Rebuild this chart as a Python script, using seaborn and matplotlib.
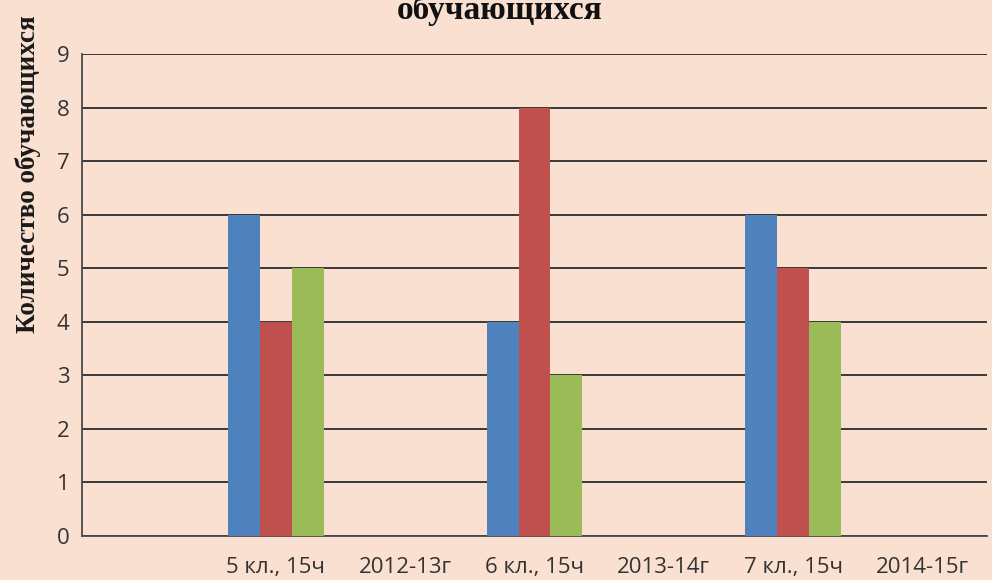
"""
Grouped bar chart: number of students per class / school year
"""

import numpy as np
import pandas as pd
import matplotlib
matplotlib.use("Agg")
import matplotlib.pyplot as plt
import seaborn as sns

# categories on the x axis (first slot is empty in the original)
categories = ["", "5 кл., 15ч", "2012-13г", "6 кл., 15ч", "2013-14г", "7 кл., 15ч", "2014-15г"]
series_names = ["Ряд 1", "Ряд 2", "Ряд 3"]
# only the class categories carry values
value_cats = ["5 кл., 15ч", "6 кл., 15ч", "7 кл., 15ч"]
blue_vals = [6, 4, 6]
red_vals = [4, 8, 5]
green_vals = [5, 3, 4]
y_ticks = list(range(0, 10))

bg = "#f9e0d1"
colors = ["#4f81bd", "#c0504d", "#9bbb59"]

rows = []
for name, vals in zip(series_names, [blue_vals, red_vals, green_vals]):
    for cat, v in zip(value_cats, vals):
        rows.append({"category": cat, "series": name, "value": v})
df = pd.DataFrame(rows)

sns.set_theme(style="white")
plt.rcParams["font.family"] = ["Open Sans", "DejaVu Sans"]

fig = plt.figure(figsize=(9.92, 5.8), dpi=100, facecolor=bg)
ax = fig.add_axes([82 / 992, 44 / 580, 905 / 992, 482 / 580])
ax.set_facecolor(bg)

sns.barplot(data=df, x="category", y="value", hue="series", order=categories,
            hue_order=series_names, palette=colors, width=0.74, gap=0,
            saturation=1, legend=False, ax=ax, zorder=3, linewidth=0)

ax.set_ylim(0, 9)
ax.set_xlim(-0.5, len(categories) - 0.5)
ax.set_yticks(y_ticks)
ax.yaxis.grid(True, color="#2b2b2b", linewidth=1.3, zorder=1)
ax.set_axisbelow(True)

for side in ["top", "right"]:
    ax.spines[side].set_visible(False)
for side in ["left", "bottom"]:
    ax.spines[side].set_color("#4a4a4a")
    ax.spines[side].set_linewidth(1.3)

ax.tick_params(axis="y", length=0, pad=9, labelsize=16, labelcolor="#333333")
ax.tick_params(axis="x", length=0, pad=15, labelsize=16, labelcolor="#333333")
ax.set_xticks(range(len(categories)))
ax.set_xticklabels(categories)

ax.set_xlabel("")
ax.set_ylabel("")

fig.text(28 / 992, 1 - 174 / 580, "Количество обучающихся", rotation=90,
         ha="center", va="center", fontsize=19.5, fontweight="bold",
         family=["Liberation Serif", "DejaVu Serif"], color="#1a1a1a")
fig.text(500 / 992, 1 - 19 / 580, "обучающихся", ha="center", va="baseline",
         fontsize=24, fontweight="bold",
         family=["Liberation Serif", "DejaVu Serif"], color="#111111")

fig.savefig("out.png", dpi=100, facecolor=bg)
